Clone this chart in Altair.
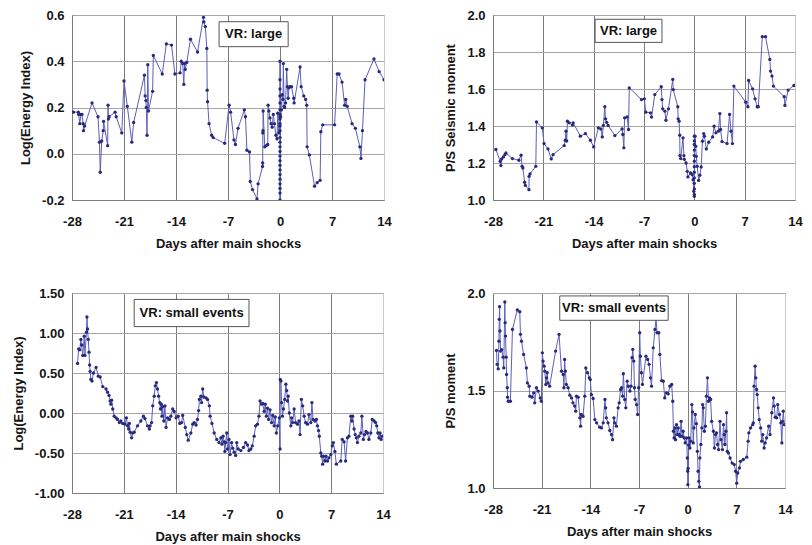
import altair as alt
import pandas as pd

FONT = "Liberation Sans, Arial, Helvetica, sans-serif"
LINE_COLOR = "#5c5fb8"
DOT_COLOR = "#27297c"
X_TICKS = [-28, -21, -14, -7, 0, 7, 14]
X_TITLE = "Days after main shocks"

# ---------------- Panel 1: Log(Energy Index), VR: large ----------------
p1_day = [-27.8, -27.15, -27.1, -26.95, -26.8, -26.65, -26.5, -26.45, -26.3, -25.3, -24.5, -24.3,
          -24.2, -24.0, -23.8, -23.75, -23.2, -23.15, -23.1, -23.0, -22.2, -22.05, -21.3, -21.0,
          -20.55, -19.95, -19.7, -18.25, -18.15, -18.05, -18.0, -17.9, -17.8, -17.7, -17.15, -17.05,
          -15.85, -15.3, -14.6, -14.15, -13.45, -13.3, -13.1, -12.95, -12.85, -12.75, -12.55, -12.05,
          -11.1, -10.3, -10.25, -10.05, -9.85, -9.8, -9.75, -9.55, -9.2, -9.0, -7.45, -6.85, -6.65,
          -6.2, -6.0, -5.65, -4.8, -4.65, -4.45, -4.1, -4.0, -3.7, -3.1, -2.95, -2.35, -2.33, -2.31,
          -2.29, -2.27, -2.05, -1.85, -1.65, -1.6, -1.5, -1.35, -1.2, -1.05, -0.9, -0.75, -0.55, -0.4,
          -0.3, -0.15,
          0.0, 0.0, 0.0, 0.0, 0.0, 0.0, 0.0, 0.0, 0.0, 0.0, 0.0, 0.0, 0.0, 0.0, 0.0, 0.0, 0.0, 0.0,
          0.0, 0.0, 0.0, 0.0, 0.0, 0.0, 0.0, 0.0,
          0.08, 0.2, 0.3, 0.4, 0.45, 0.55, 0.62, 0.75, 0.9, 1.0, 1.1, 1.2, 1.35, 1.55, 1.85, 1.9,
          2.7, 2.85, 3.2, 3.45, 3.6, 3.65, 3.95, 4.65, 5.0, 5.4, 5.5, 5.75, 7.35, 7.7, 7.95, 8.35,
          8.7, 8.85, 9.05, 9.7, 10.15, 10.75, 10.9, 11.1, 11.45, 12.65, 13.35, 14.0]
p1_val = [0.18, 0.18, 0.17, 0.13, 0.17, 0.17, 0.13, 0.10, 0.12, 0.22, 0.16, 0.05,
          -0.08, 0.055, 0.10, 0.14, 0.035, 0.21, 0.15, 0.16, 0.18, 0.16, 0.09, 0.315,
          0.205, 0.05, 0.135, 0.34, 0.25, 0.23, 0.20, 0.08, 0.385, 0.185, 0.27, 0.425,
          0.345, 0.475, 0.47, 0.345, 0.35, 0.40, 0.39, 0.30, 0.39, 0.365, 0.395, 0.495,
          0.44, 0.59, 0.57, 0.55, 0.455, 0.275, 0.225, 0.13, 0.08, 0.07, 0.045, 0.21, 0.18,
          0.06, 0.04, 0.11, 0.19, 0.16, 0.015, 0.008, -0.12, -0.155, -0.195, -0.13, -0.055, -0.04, 0.09,
          0.10, 0.185, 0.03, 0.035, 0.04, 0.21, 0.185, 0.155, 0.13, 0.115, 0.17, 0.13, 0.08, 0.065,
          0.175, 0.09,
          0.12, 0.15, 0.17, 0.40, 0.32, 0.28, 0.25, 0.22, 0.19, 0.16, 0.13, 0.10, 0.07, 0.05, 0.03, 0.01,
          -0.01, -0.03, -0.05, -0.07, -0.09, -0.11, -0.13, -0.15, -0.17, -0.20,
          0.16, 0.19, 0.255, 0.235, 0.39, 0.205, 0.20, 0.22, 0.365, 0.29, 0.24, 0.285, 0.29, 0.29, 0.24, 0.22,
          0.375, 0.29, 0.25, 0.235, 0.21, 0.03, -0.005, -0.14, -0.125, -0.115, 0.095, 0.125, 0.125, 0.345, 0.345, 0.31,
          0.21, 0.235, 0.205, 0.13, 0.11, 0.03, -0.02, 0.10, 0.32, 0.41, 0.355, 0.32]

# ---------------- Panel 2: P/S Seismic moment, VR: large ----------------
p2_day = [-27.6, -27.0, -26.9, -26.8, -26.55, -26.35, -26.2, -25.3, -24.4, -24.1, -23.95, -23.85,
          -23.6, -23.5, -23.0, -22.98, -22.85, -22.05, -21.95, -21.15, -20.9, -20.35, -19.9, -19.65,
          -18.1, -17.95, -17.85, -17.75, -17.65, -17.4, -16.95, -16.85, -15.85, -15.15, -14.45, -14.0,
          -13.35, -13.0, -12.8, -12.65, -12.45, -12.35, -12.2, -12.0, -11.05, -10.05, -9.95, -9.8,
          -9.7, -9.35, -9.15, -9.05, -7.35, -6.95, -6.75, -6.1, -5.95, -5.5, -4.6, -4.5, -4.4, -4.1,
          -3.95, -3.6, -3.0, -2.93, -2.3, -2.25, -2.12, -2.03, -2.0, -1.9, -1.57, -1.45, -1.4, -1.15,
          -0.98, -0.89, -0.53, -0.3, -0.17, -0.08,
          0.0, 0.0, 0.0, 0.0, 0.0, 0.0, 0.0, 0.0, 0.0, 0.0, 0.0, 0.0, 0.0,
          0.1, 0.2, 0.27, 0.4, 0.6, 0.77, 0.95, 1.13, 1.3, 1.4, 1.67, 2.0, 2.55, 2.75, 3.0, 3.35,
          3.55, 3.65, 3.85, 4.55, 4.9, 5.1, 5.3, 5.5, 7.15, 7.45, 7.55, 8.1, 8.45, 8.75, 8.9, 9.45,
          9.9, 10.5, 10.6, 10.8, 11.0, 12.5, 12.6, 13.05, 13.85, 14.0]
p2_val = [1.273, 1.209, 1.186, 1.222, 1.233, 1.245, 1.254, 1.224, 1.215, 1.242, 1.182, 1.173,
          1.096, 1.079, 1.056, 1.128, 1.141, 1.182, 1.422, 1.390, 1.305, 1.276, 1.222, 1.245,
          1.294, 1.323, 1.372, 1.319, 1.426, 1.417, 1.405, 1.417, 1.345, 1.359, 1.323, 1.287,
          1.390, 1.384, 1.341, 1.403, 1.504, 1.439, 1.420, 1.403, 1.348, 1.384, 1.354, 1.282,
          1.444, 1.449, 1.381, 1.606, 1.543, 1.547, 1.475, 1.471, 1.448, 1.570, 1.612, 1.543, 1.493, 1.480,
          1.431, 1.493, 1.652, 1.597, 1.504, 1.439, 1.426, 1.350, 1.240, 1.224, 1.336, 1.240, 1.220, 1.200,
          1.155, 1.125, 1.146, 1.137, 1.110, 1.047,
          1.02, 1.03, 1.06, 1.09, 1.12, 1.15, 1.18, 1.21, 1.24, 1.27, 1.30, 1.32, 1.345,
          1.345, 1.290, 1.236, 1.182, 1.106, 1.134, 1.179, 1.318, 1.359, 1.345, 1.276, 1.312, 1.341, 1.399, 1.363, 1.372,
          1.467, 1.381, 1.316, 1.305, 1.462, 1.372, 1.305, 1.616, 1.529, 1.504, 1.646, 1.601, 1.547, 1.504, 1.504, 1.883,
          1.883, 1.760, 1.697, 1.670, 1.616, 1.558, 1.511, 1.594, 1.619, 1.620]

# ---------------- Panel 3: Log(Energy Index), VR: small events ----------------
p3_day = [-27.25, -27.1, -26.95, -26.8, -26.7, -26.55, -26.35, -26.25, -26.05, -25.98, -25.9, -25.8,
          -25.7, -25.62, -25.55, -25.45, -25.3, -25.1, -24.75, -24.45, -24.2, -23.85, -23.4, -23.2,
          -23.0, -22.85, -22.75, -22.65, -22.5, -22.3, -22.05, -21.85, -21.6, -21.4, -21.15, -20.85,
          -20.65, -20.5, -20.35, -20.25, -20.15, -19.95, -19.8, -19.6, -19.15, -18.7, -18.35, -18.15,
          -17.8, -17.55, -17.45, -17.25, -17.1, -16.9, -16.75, -16.6, -16.45, -16.3, -16.15, -16.05,
          -15.95, -15.85, -15.75, -15.6, -15.45, -15.3, -15.1, -14.85, -14.65, -14.4, -14.2, -13.95,
          -13.65, -13.45, -13.2, -13.05, -12.7, -12.5, -12.3, -11.95, -11.7, -11.5, -11.25, -11.05,
          -10.9, -10.8, -10.6, -10.5, -10.35, -10.2, -9.9, -9.7, -9.45, -9.35, -9.1, -8.8,
          -8.45, -8.15, -7.9, -7.75, -7.6, -7.45, -7.35, -7.25, -7.1, -7.0, -6.8, -6.65,
          -6.45, -6.3, -6.1, -5.9, -5.75, -5.55, -5.2, -4.85, -4.55, -4.3, -4.1, -3.85,
          -3.65, -3.4, -3.2, -2.95, -2.75, -2.6, -2.4, -2.25, -2.05, -1.9, -1.75, -1.6,
          -1.45, -1.25, -1.05, -0.9, -0.7, -0.55, -0.4, -0.2, 0.0, 0.1, 0.12, 0.22,
          0.3, 0.42, 0.55, 0.72, 0.88, 1.0, 1.1, 1.2, 1.35, 1.55, 1.65, 1.8,
          2.0, 2.2, 2.45, 2.65, 2.8, 2.98, 3.15, 3.35, 3.55, 3.8, 4.0, 4.25,
          4.4, 4.55, 4.8, 5.0, 5.15, 5.3, 5.4, 5.6, 5.72, 5.85, 5.95, 6.15,
          6.3, 6.5, 6.7, 6.95, 7.15, 7.3, 7.5, 7.7, 8.3, 8.5, 8.75, 8.95,
          9.2, 9.4, 9.65, 9.8, 9.9, 10.1, 10.25, 10.4, 10.55, 10.75, 11.0, 11.15,
          11.35, 11.5, 11.7, 11.9, 12.1, 12.35, 12.55, 12.8, 13.0, 13.15, 13.3, 13.45,
          13.6, 13.75, 13.9]
p3_val = [0.62, 0.80, 0.79, 0.92, 0.85, 0.72, 0.96, 0.72, 1.01, 1.20, 1.05, 0.92,
          0.76, 0.60, 0.52, 0.42, 0.40, 0.50, 0.57, 0.46, 0.45, 0.33, 0.30, 0.26,
          0.22, 0.15, 0.11, 0.16, 0.05, -0.04, -0.06, -0.08, -0.12, -0.10, -0.13, -0.14,
          -0.06, -0.16, -0.20, -0.13, -0.24, -0.31, -0.25, -0.24, -0.16, -0.10, -0.04, -0.07,
          -0.16, -0.20, -0.16, -0.12, 0.09, 0.21, 0.34, 0.38, 0.30, 0.21, 0.13, 0.05,
          0.11, -0.04, 0.08, -0.10, 0.09, -0.18, -0.06, -0.08, -0.04, 0.05, 0.02, -0.06,
          -0.04, -0.13, -0.12, -0.03, -0.18, -0.27, -0.34, -0.25, -0.14, -0.12, -0.15, -0.08,
          0.03, 0.17, 0.21, 0.13, 0.30, 0.20, 0.19, 0.17, 0.09, -0.04, -0.13, -0.25,
          -0.33, -0.37, -0.31, -0.39, -0.29, -0.36, -0.48, -0.37, -0.25, -0.45, -0.33, -0.52,
          -0.37, -0.44, -0.49, -0.53, -0.37, -0.45, -0.47, -0.43, -0.37, -0.40, -0.47, -0.45,
          -0.41, -0.29, -0.16, -0.14, -0.04, 0.15, 0.11, 0.12, 0.02, 0.11, -0.04, 0.06,
          -0.08, 0.04, -0.12, -0.03, -0.16, -0.05, -0.25, -0.16, -0.06, -0.45, 0.42, 0.40,
          0.13, -0.04, 0.05, 0.17, 0.36, 0.28, 0.15, 0.21, 0.00, -0.16, -0.06, -0.12,
          0.05, -0.12, -0.14, -0.10, -0.27, 0.17, 0.09, -0.04, -0.12, -0.14, -0.02, -0.12,
          0.13, -0.08, -0.10, -0.08, -0.16, -0.22, -0.29, -0.50, -0.54, -0.64, -0.54, -0.60,
          -0.54, -0.60, -0.56, -0.52, -0.41, -0.37, -0.48, -0.64, -0.60, -0.33, -0.36, -0.60,
          -0.31, -0.29, -0.04, -0.10, -0.04, -0.20, -0.27, -0.31, -0.37, -0.29, -0.25, -0.04,
          -0.33, -0.27, -0.23, -0.25, -0.33, -0.25, -0.08, -0.10, -0.12, -0.16, -0.25, -0.31,
          -0.25, -0.33, -0.29]

# ---------------- Panel 4: P/S moment, VR: small events ----------------
p4_day = [-27.5, -27.4, -27.25, -27.15, -27.1, -27.05, -27.0, -26.9, -26.75, -26.55, -26.45, -26.3,
          -26.25, -26.2, -26.1, -26.05, -25.95, -25.9, -25.8, -25.5, -25.2, -24.5, -24.15, -24.05,
          -23.9, -23.6, -23.2, -23.05, -22.8, -22.7, -22.4, -22.15, -22.0, -21.75, -21.5, -21.2,
          -21.05, -20.9, -20.8, -20.65, -20.55, -20.4, -20.3, -20.2, -20.1, -19.85, -19.0, -18.5,
          -18.15, -17.9, -17.8, -17.7, -17.6, -17.45, -17.2, -16.95, -16.7, -16.5, -16.25, -16.1,
          -16.0, -15.75, -15.5, -15.4, -15.3, -15.05, -14.8, -14.65, -14.4, -14.15, -14.0, -13.85,
          -13.6, -13.35, -13.1, -12.65, -12.4, -12.15, -11.9, -11.8, -11.7, -11.45, -11.2, -10.95,
          -10.8, -10.6, -10.5, -10.25, -10.0, -9.85, -9.65, -9.5, -9.35, -9.25, -9.05, -8.9,
          -8.7, -8.55, -8.3, -8.15, -8.0, -7.9, -7.75, -7.65, -7.55, -7.35, -7.2, -7.05,
          -6.9, -6.8, -6.65, -6.5, -6.0, -5.75, -5.55, -5.35, -5.2, -4.95, -4.7, -4.55,
          -4.4, -4.15, -4.0, -3.75, -3.5, -3.3, -3.05, -2.8, -2.55, -2.3, -2.15, -2.05,
          -1.95, -1.85, -1.75, -1.6, -1.5, -1.35, -1.2, -1.1, -0.95, -0.8, -0.65, -0.5,
          -0.35, -0.15, -0.05, 0.0, 0.03, 0.06, 0.13, 0.22, 0.32, 0.45, 0.6, 0.7,
          0.8, 0.9, 1.1, 1.25, 1.4, 1.5, 1.6, 1.7, 1.75, 1.9, 2.05, 2.15,
          2.25, 2.4, 2.55, 2.7, 2.85, 3.0, 3.15, 3.3, 3.45, 3.7, 3.85, 4.0,
          4.15, 4.3, 4.45, 4.65, 4.8, 5.0, 5.15, 5.25, 5.35, 5.5, 5.6, 5.7,
          5.85, 6.1, 6.4, 6.7, 6.9, 7.05, 7.2, 7.45, 7.6, 8.0, 8.5, 8.7,
          8.8, 9.05, 9.35, 9.45, 9.55, 9.7, 9.8, 9.9, 10.0, 10.15, 10.3, 10.5,
          10.65, 10.8, 11.0, 11.15, 11.35, 11.65, 11.85, 12.1, 12.35, 12.45, 12.6, 12.8,
          12.95, 13.2, 13.4, 13.55, 13.65, 13.75, 13.9]
p4_val = [1.705, 1.634, 1.611, 1.753, 1.865, 1.930, 1.805, 1.702, 1.710, 1.671, 1.616, 1.954,
          1.848, 1.779, 1.671, 1.582, 1.514, 1.466, 1.445, 1.445, 1.813, 1.913, 1.904, 1.788,
          1.753, 1.685, 1.616, 1.539, 1.522, 1.471, 1.466, 1.488, 1.437, 1.514, 1.497, 1.462,
          1.445, 1.693, 1.651, 1.625, 1.599, 1.531, 1.565, 1.591, 1.539, 1.522, 1.702, 1.788,
          1.599, 1.582, 1.514, 1.659, 1.599, 1.531, 1.514, 1.476, 1.462, 1.437, 1.420, 1.394,
          1.471, 1.466, 1.360, 1.317, 1.377, 1.368, 1.471, 1.616, 1.591, 1.565, 1.556, 1.479,
          1.459, 1.351, 1.334, 1.312, 1.308, 1.334, 1.454, 1.411, 1.360, 1.334, 1.295, 1.274,
          1.248, 1.360, 1.334, 1.317, 1.411, 1.437, 1.505, 1.514, 1.471, 1.586, 1.454, 1.411,
          1.548, 1.522, 1.497, 1.522, 1.668, 1.711, 1.651, 1.514, 1.454, 1.428, 1.377, 1.514,
          1.796, 1.676, 1.591, 1.531, 1.676, 1.659, 1.634, 1.565, 1.522, 1.719, 1.813, 1.868,
          1.796, 1.796, 1.685, 1.551, 1.548, 1.462, 1.488, 1.483, 1.522, 1.531, 1.445, 1.291,
          1.257, 1.308, 1.248, 1.325, 1.274, 1.308, 1.274, 1.265, 1.342, 1.265, 1.291, 1.257,
          1.231, 1.257, 1.154, 1.086, 1.017, 1.100, 1.220, 1.257, 1.205, 1.240, 1.428, 1.390,
          1.231, 1.308, 1.377, 1.330, 1.188, 1.086, 1.034, 1.005, 1.154, 1.223, 1.308, 1.428,
          1.411, 1.291, 1.317, 1.471, 1.565, 1.445, 1.462, 1.454, 1.342, 1.291, 1.205, 1.274,
          1.283, 1.223, 1.197, 1.342, 1.248, 1.197, 1.325, 1.274, 1.223, 1.291, 1.386, 1.188,
          1.180, 1.154, 1.128, 1.120, 1.086, 1.025, 1.077, 1.103, 1.137, 1.146, 1.158, 1.240,
          1.283, 1.308, 1.325, 1.334, 1.522, 1.625, 1.565, 1.505, 1.479, 1.411, 1.351, 1.308,
          1.240, 1.274, 1.205, 1.231, 1.257, 1.317, 1.274, 1.386, 1.462, 1.420, 1.363, 1.360,
          1.428, 1.377, 1.334, 1.231, 1.342, 1.394, 1.325]

# annotation boxes (data coordinates): label, left day, right day, top value, bottom value
boxes = {
    "p1": ("VR: large", -8.2, 1.1, 0.571, 0.463),
    "p2": ("VR: large", -13.8, -4.5, 1.977, 1.852),
    "p3": ("VR: small events", -19.6, -4.1, 1.42, 1.08),
    "p4": ("VR: small events", -18.4, -2.8, 1.985, 1.86),
}


def minus_fix(fmt):
    return f"(datum.value < 0 ? '-' : '') + format(abs(datum.value), '{fmt}')"


def panel(days, vals, ydom, yticks, yfmt, ytitle, w, h, box):
    df = pd.DataFrame({"day": days, "val": vals, "i": list(range(len(days)))})
    xenc = alt.X(
        "day:Q",
        scale=alt.Scale(domain=[-28, 14], nice=False, zero=False),
        axis=alt.Axis(
            values=X_TICKS, tickCount=20, title=X_TITLE, labelExpr=minus_fix("d"),
            labelOverlap=False, labelFlush=False,
            gridColor=alt.condition("datum.value == 14", alt.value("#c8c8c8"), alt.value("#7c7c7c")),
        ),
    )
    yenc = alt.Y(
        "val:Q",
        scale=alt.Scale(domain=ydom, nice=False, zero=False),
        axis=alt.Axis(values=yticks, tickCount=20, title=ytitle, labelExpr=minus_fix(yfmt),
                      gridColor="#a6a6a6", labelOverlap=False, labelFlush=False),
    )
    base = alt.Chart(df)
    line = base.mark_line(color=LINE_COLOR, strokeWidth=1, clip=True).encode(x=xenc, y=yenc, order="i:Q")
    dots = base.mark_point(filled=True, size=11, color=DOT_COLOR, opacity=1, clip=True).encode(x=xenc, y=yenc)
    label, x1, x2, y1, y2 = box
    bdf = pd.DataFrame({"day": [x1], "day2": [x2], "val": [y1], "val2": [y2]})
    tdf = pd.DataFrame({"day": [(x1 + x2) / 2], "val": [(y1 + y2) / 2], "t": [label]})
    rect = alt.Chart(bdf).mark_rect(fill="white", stroke="#555555", strokeWidth=1).encode(
        x=alt.X("day:Q"), x2="day2:Q", y=alt.Y("val:Q"), y2="val2:Q")
    text = alt.Chart(tdf).mark_text(font=FONT, fontSize=13, fontWeight="bold", color="#111111").encode(
        x=alt.X("day:Q"), y=alt.Y("val:Q"), text="t:N")
    return alt.layer(line, dots, rect, text).properties(width=w, height=h)


c1 = panel(p1_day, p1_val, [-0.2, 0.6], [-0.2, 0.0, 0.2, 0.4, 0.6], ".1f", "Log(Energy Index)", 312, 185, boxes["p1"])
c2 = panel(p2_day, p2_val, [1.0, 2.0], [1.0, 1.2, 1.4, 1.6, 1.8, 2.0], ".1f", "P/S Seismic moment", 302, 185, boxes["p2"])
c3 = panel(p3_day, p3_val, [-1.0, 1.5], [-1.0, -0.5, 0.0, 0.5, 1.0, 1.5], ".2f", "Log(Energy Index)", 311, 200, boxes["p3"])
c4 = panel(p4_day, p4_val, [1.0, 2.0], [1.0, 1.5, 2.0], ".1f", "P/S moment", 292, 195, boxes["p4"])

chart = alt.concat(
    c1, c2, c3, c4, columns=2, bounds="flush", align="each",
    spacing={"row": 93, "column": 109},
).properties(padding={"left": 3, "top": 0, "right": 0, "bottom": 0}).configure_view(
    stroke="#c8c8c8", strokeWidth=1
).configure_axis(
    labelFont=FONT, labelFontSize=13, labelFontWeight="bold", labelColor="#151515",
    titleFont=FONT, titleFontSize=13, titleFontWeight="bold", titleColor="#151515",
    ticks=False, domainColor="#7c7c7c", domainWidth=1, gridWidth=1,
).configure_axisX(labelPadding=15, titlePadding=9).configure_axisY(labelPadding=8, titlePadding=9)

chart.save("out.html", embed_options={"renderer": "svg", "actions": False})
